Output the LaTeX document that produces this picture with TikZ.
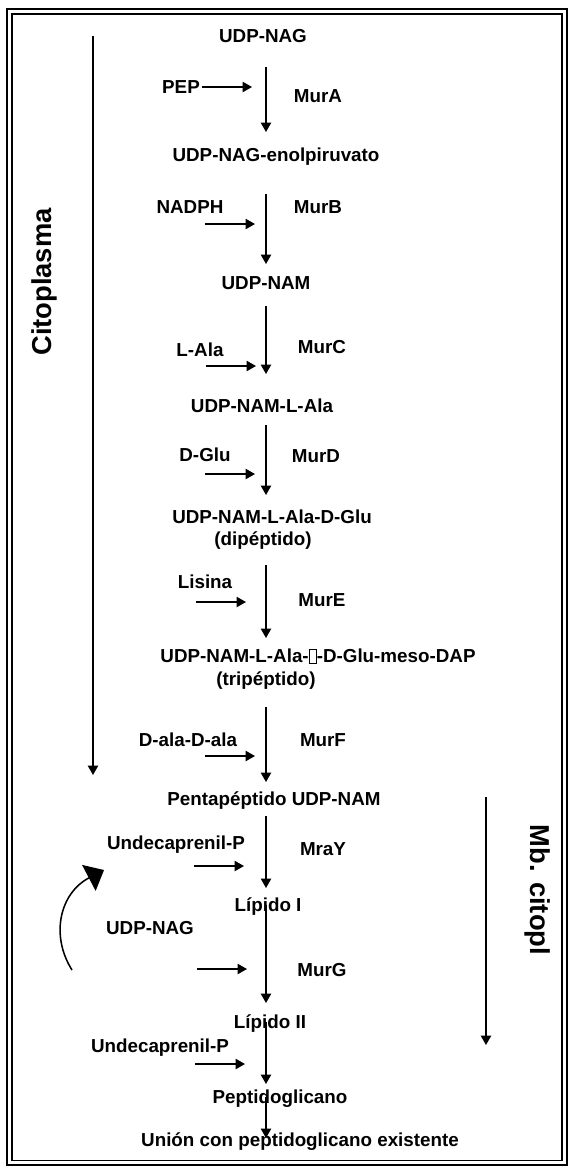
\documentclass[tikz,border=0pt]{standalone}
\usepackage{fontspec}
\setmainfont{Liberation Sans}
\usetikzlibrary{arrows.meta}

% empty box where a glyph is missing
\newcommand{\nochar}{{\fboxsep=0pt\fboxrule=0.4pt\fbox{\rule{0pt}{7.6pt}\hspace{3.9pt}}}}

\begin{document}
\begin{tikzpicture}[x=0.585pt, y=-0.585pt,
    chem/.style={font=\fontsize{11}{13}\selectfont\bfseries, inner sep=0pt, text height=7.9pt, text depth=0pt},
    region/.style={font=\fontsize{16}{19}\selectfont\bfseries, inner sep=0pt, text height=11.5pt, text depth=0pt},
    arrow/.style={-{Triangle[length=5.5pt, width=6pt]}, line width=0.9pt},
    recycle/.style={-{Triangle[length=10pt, width=17pt]}, line width=0.9pt}
]

\useasboundingbox (0,0) rectangle (574,1169);

% double frame
\draw[line width=1.5pt] (7,9) rectangle (567,1165);
\draw[line width=0.6pt] (12,14) rectangle (562,1160);

\coordinate (col) at (266,0);

% substrates down the column
\node[chem] (udpnag) at (263,36) {UDP-NAG};
\node[chem] (enol) at (276,155) {UDP-NAG-enolpiruvato};
\node[chem] (udpnam) at (266,283) {UDP-NAM};
\node[chem] (nala) at (262,406) {UDP-NAM-L-Ala};
\node[chem] (dipep) at (272,517) {UDP-NAM-L-Ala-D-Glu};
\node[chem] (dipepnote) at (263,539) {(dipéptido)};
\node[chem] (tripep) at (318,656) {UDP-NAM-L-Ala-\nochar-D-Glu-meso-DAP};
\node[chem] (tripepnote) at (266,679) {(tripéptido)};
\node[chem] (penta) at (274,799) {Pentapéptido UDP-NAM};
\node[chem] (lipI) at (268,905) {Lípido I};
\node[chem] (lipII) at (270,1022) {Lípido II};
\node[chem] (pg) at (280,1097) {Peptidoglicano};
\node[chem] (union) at (300,1140) {Unión con peptidoglicano existente};

% enzymes
\node[chem] (mura) at (318,96) {MurA};
\node[chem] (murb) at (318,207) {MurB};
\node[chem] (murc) at (322,347) {MurC};
\node[chem] (murd) at (316,456) {MurD};
\node[chem] (mure) at (322,600) {MurE};
\node[chem] (murf) at (323,740) {MurF};
\node[chem] (mray) at (323,849) {MraY};
\node[chem] (murg) at (322,970) {MurG};

% co-substrates coming in from the left
\node[chem] (pep) at (181,87) {PEP};
\node[chem] (nadph) at (190,207) {NADPH};
\node[chem] (lala) at (200,350) {L-Ala};
\node[chem] (dglu) at (205,455) {D-Glu};
\node[chem] (lisina) at (205,582) {Lisina};
\node[chem] (dalaala) at (188,740) {D-ala-D-ala};
\node[chem] (undecA) at (176,843) {Undecaprenil-P};
\node[chem] (udpnagB) at (150,928) {UDP-NAG};
\node[chem] (undecB) at (160,1046) {Undecaprenil-P};

\coordinate (tipA) at (252,87);
\coordinate (tipB) at (255,224);
\coordinate (tipC) at (256,366);
\coordinate (tipD) at (255,474);
\coordinate (tipE) at (246,602);
\coordinate (tipF) at (255,756);
\coordinate (tipG) at (244,866);
\coordinate (tipH) at (247,969);
\coordinate (tipI) at (245,1064);

% compartments
\node[region, rotate=90] (cyto) at (42,282) {Citoplasma};
\node[region, rotate=-90] (memb) at (540,890) {Mb. citopl};
\coordinate (cytotop) at (93,36);
\coordinate (cytobot) at (93,775);
\coordinate (membtop) at (486,797);
\coordinate (membbot) at (486,1045);

\coordinate (recycleA) at (72,970);
\coordinate (recycleB) at (104,870);

% reaction steps
\foreach \a/\b/\s/\t in {udpnag/enol/31/23, enol/udpnam/39/19, udpnam/nala/23/32,
    nala/dipep/19/22, dipepnote/tripep/26/18, tripepnote/penta/28/17,
    penta/lipI/17/17, lipI/lipII/0/19, lipII/pg/0/13, pg/union/0/2}
  \draw[arrow, shorten <=\s*0.585pt, shorten >=\t*0.585pt] (col |- \a) -- (col |- \b);

\foreach \t in {tipA,tipB,tipC,tipD,tipE,tipF,tipG,tipH,tipI}
  \draw[arrow] ([xshift=-29pt]\t) -- (\t);

\draw[arrow] (cytotop) -- (cytobot);
\draw[arrow] (membtop) -- (membbot);
\draw[recycle] (recycleA) .. controls (50,935) and (60,893) .. (recycleB);

\end{tikzpicture}
\end{document}
